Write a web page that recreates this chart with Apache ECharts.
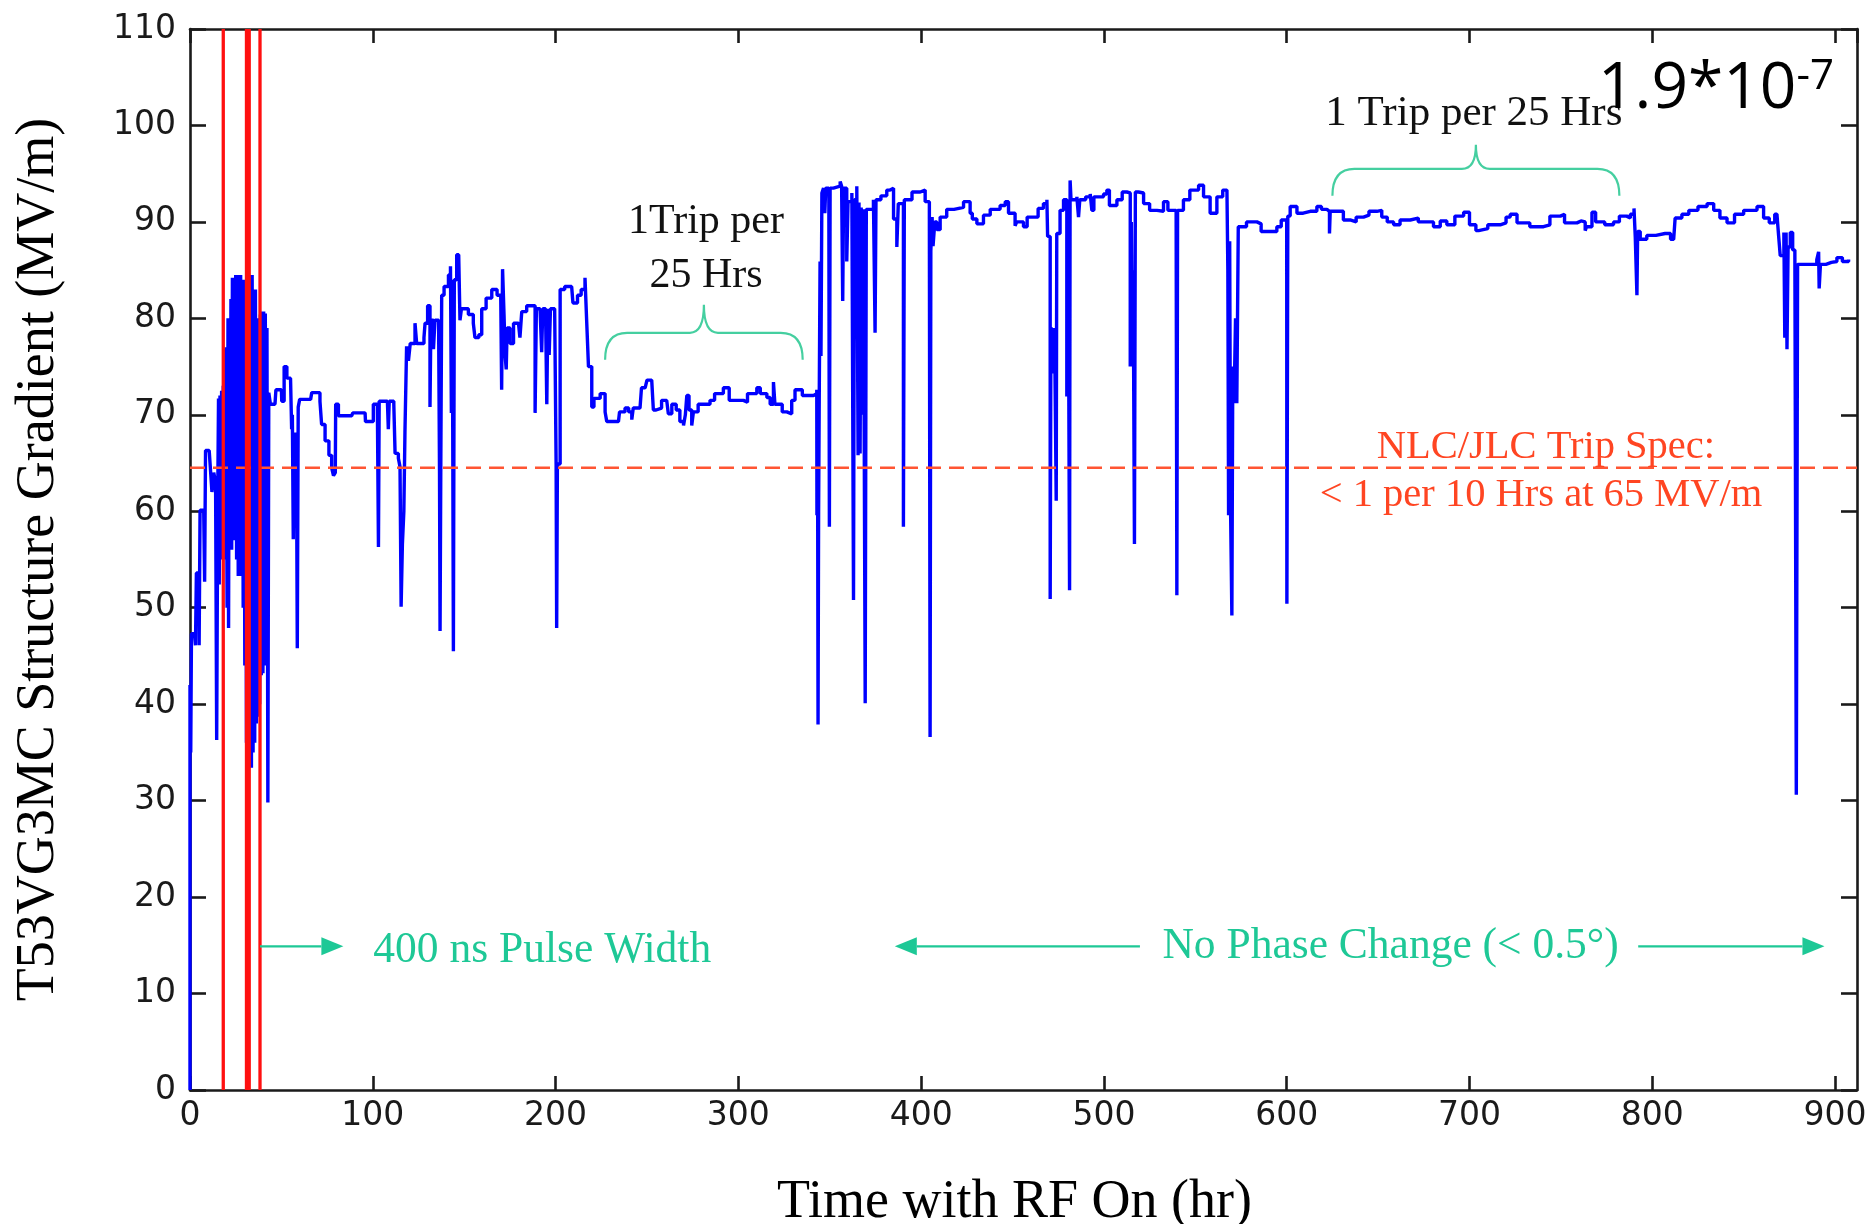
<!DOCTYPE html>
<html>
<head>
<meta charset="utf-8">
<script src="https://cdn.jsdelivr.net/npm/echarts@6/dist/echarts.min.js"></script>
<style>
html, body { margin: 0; padding: 0; background: #ffffff; }
#chart { width: 1870px; height: 1224px; }
</style>
</head>
<body>
<div id="chart"></div>
<script>
// ---------------- data (hours, gradient MV/m) ----------------
const segEarly = [
  [0,0],[0,42],[0.4,35],[0.8,47.3],[2.5,47.3],[3,46.1],[3.5,53.6],[4.5,53.6],[5,46.1],[5.5,60.1],[7.5,60.1],[8,52.7],
  [8.5,66.3],[10.5,66.3],[11,64.9],[12,62],[13,64],[14,63],[14.6,36.3],[15.2,62],[15.6,71.7],[16,52.4],[16.4,72],
  [16.8,55],[17.3,72.5],[17.7,56],[18.2,73],[18.6,55],[19,76.8],[19.4,56],[19.8,77],[20.3,50],[20.8,80],[21.1,47.9],
  [21.5,80],[22,57],[22.4,82],[22.8,56],[23.2,84.2],[23.7,58],[24.1,84.2],[24.6,57],[25,84.5],[25.5,55],[25.9,84.2],
  [26.4,53.3],[26.8,84.5],[27.3,56],[27.7,84.5],[28.2,53.3],[28.6,84],[29.1,50],[29.5,84],[30,44],[30.4,83.5],[30.9,36],
  [31.3,84.5],[31.8,33.4],[32.2,84.5],[32.7,34],[33.1,84.5],[33.6,33.4],[34,84.5],[34.5,35],[34.9,83],[35.4,36],[35.8,83],
  [36.3,38],[36.7,80],[37.2,38.7],[37.6,79.5],[38.1,40],[38.5,80.4],[39,43],[39.4,80.7],[39.9,43.2],[40.3,80.7],[40.8,44],
  [41.2,80.5],[41.7,44],[42.1,79],[42.6,29.8],[43.1,72.3]
];
const segMid = [
  [44,71.1],[46.5,71.1],[47,72.6],[50,72.6],[50.2,71.4],[51,71.4],[51.5,75],[52.5,75],[53,73.8],[55,73.8],[55.6,68.5],
  [56,70],[56.5,57.1],[57,68],[58.2,68],[58.7,45.8],[59.2,70.8],[60,71.6],[66,71.6],[66.6,72.3],[70,72.3],[71.1,71.4],
  [72,69],[73.9,67.3],[76,65.8],[77.5,64.5],[78.5,63.7],[79.5,64],[79.7,71.1],[81.2,69.9],[88.5,69.9],[89,70.2],
  [95.8,70.2],[96,69.3],[99,69.3],[100.3,71.1],[102.5,71.1],[103.1,56.3],[103.5,71.4],[108,71.4],[108.5,68.5],[109,71.4],
  [111.5,71.1],[112.2,66],[114,65.5],[114.9,64.6],[115.5,50.1],[116.2,56.6],[117,60],[117.6,68.2],[118.5,77.1],
  [119.5,75.6],[120.5,77.4],[123.1,79.5],[124,77.4],[128,78],[128.6,79.5],[130,81.3],[131.3,70.8],[131.8,79.8],
  [133.2,76.8],[134,79.8],[136,79.8],[136.5,64.3],[136.8,47.6],[137.2,64.3],[137.7,82.4],[139,83.3],[141.4,84.5],
  [142.5,85.4],[143,70.2],[143.5,84],[144.1,45.5],[144.6,84],[145.9,86.6],[147,86.6],[147.7,79.8],[148.5,81],
  [152.3,80.4],[155,79.5],[155.9,78],[158,78.3],[159.6,81],[162,82.1],[165.1,83],[168,82.4],[170,82.4],[170.5,72.6],
  [171,85.1],[171.8,80.4],[172.4,76.2],[173,74.7],[173.5,79],[175.1,77.4],[177,79.5],[179.7,79.5],[180.5,78],
  [181.5,80.7],[184.2,81.3],[187,81.3],[188.8,70.2],[189.5,81],[191.5,81],[192.4,76.5],[193,81],[194.5,81],
  [195.2,71.1],[195.8,81],[196.5,76.2],[197.2,81],[199.5,81],[200.3,64.9],[200.6,47.9],[201,64.9],[202.5,83],
  [205,83.3],[208.8,83.3],[209.5,81.6],[212,82.4],[214,83],[216.1,84.2],[217,79.8],[218,75],[219.8,70.8],[221,71.7],
  [224.4,72.2]
];
const segPlateau = [
  [226,72.2],[227.1,70.3],[228,69.3],[234.4,69.3],[235,70.3],[238,70.7],[240,70.3],[241.7,69.5],[242.5,70.7],
  [246.2,70.7],[247,72.8],[249,72.8],[250,73.6],[252.6,73.6],[253.5,70.5],[255,70.7],[258,71.5],[260.8,71.5],
  [261.7,70.1],[263.6,71.1],[266,70.5],[268,69.3],[270,68.9],[271,70],[271.8,72],[273,70.5],[274.5,68.9],[275.4,70.3],
  [278,71.1],[284.5,71.5],[287,72.2],[291.8,72.8],[293.7,72.8],[295,71.5],[302.8,71.3],[305,72.2],[310.1,72.8],
  [312,72.2],[315.6,71.8],[317.4,71.1],[319.2,73.4],[320,71.1],[324,70.3],[326.5,70.3],[327.4,70.1],[329.2,71.5],
  [331,72.6],[333.8,72.6],[335,72],[341.1,72.2],[342.9,72.6]
];
const segHigh = [
  [343,59.6],[343.3,72],[343.6,37.9],[343.9,60],[344.2,70],[344.7,85.9],[345.2,76.1],[345.7,93],[346.6,93.5],
  [347.3,90.9],[347.8,93.5],[349.5,93.5],[349.8,58.4],[350.2,93.5],[352,93.7],[355.7,94.2],[356.5,93.7],[357.1,81.8],
  [357.6,93.5],[359.3,85.9],[360,92.1],[362.1,93],[363,50.8],[363.5,92.3],[364.8,93.7],[365.5,65.8],[366,92],
  [366.6,66],[367.2,91.5],[367.8,70],[368.4,91.3],[369.4,40.1],[370,91.3],[373.9,92.3],[374.8,78.5],[375.3,92.3],
  [378,92.7],[381.2,93.3],[383,93.5],[384.9,90.3],[386.7,87.4],[387.5,91.9],[388.5,91.9],[390.3,58.4],[390.8,92.3],
  [395,93.1],[399.5,93.3],[402.2,92.1],[404.5,90.9],[404.9,36.6],[405.3,87],[406,90.5],[406.5,87.5],[407.5,90],
  [408.6,89.2],[410.4,90.5],[414,91.3],[418,91.5],[423.2,92.1],[426.8,90.9],[428,90.3],[430.5,89.8],[434.1,90.7],
  [437.8,91.3],[443.2,91.7],[446,92.1],[447.8,90.9],[451.4,89.6],[452.3,90],[456,89.5],[458,90.5],[461.5,90.5],
  [464,91.4],[466.9,91.9],[468.8,92.3],[469.2,88.5],[470,88.5],[470.6,50.9],[471,79.1],[471.5,74.3],[472,79],
  [472.5,74.5],[473,79],[473.9,61.1],[474.2,88.8],[475.1,88.8],[476,91.2],[477.9,92.3],[478.8,92.3],[479.7,71.9],
  [480.4,92],[481.2,51.8],[481.5,94.3],[482,92.3],[485.2,92.6],[486.1,90.5],[486.8,92.3],[490,92.6],[492.5,92.9],
  [493.4,91.2],[494.5,92.6],[499.8,92.9],[501.6,93.3],[503,91.7],[507.1,92.3],[510,93.1],[512.5,93.3],[513.5,93],
  [514.4,75],[515,90],[515.5,75],[516,85],[516.7,56.6],[517.2,93.1],[518.9,93],[521.7,91.9],[525,91.2],[529,91.1],
  [532.6,92.1],[535,91.2],[539.5,91.1],[539.9,51.3],[540.3,91.2],[543.5,92.3],[547,93.3],[551.8,93.8],[554.5,92.6],
  [558.1,90.9],[561.8,92.6],[565,93.3],[567.3,93.5],[567.8,85],[568.2,59.6],[568.8,88],[569.3,60],[570,49.2],
  [570.5,75],[571.2,71.2],[572,80],[572.7,71.2],[573.5,89.5],[578,90],[583.7,89.8],[586,89],[591,89],[594.6,89.5],
  [597,90.2],[600,90.2]
];
const segLate = [
  [600.1,50.4],[600.6,90.6],[601.9,91.6],[605.6,90.9],[609,91.1],[612.9,91.1],[616.5,91.6],[619,91.3],[622,91.1],
  [623.4,88.8],[623.8,91.1],[627.5,91.1],[631,90.2],[634.7,90],[638,90.5],[642,90.7],[645,91.1],[649.3,91.2],
  [652,90.5],[655,90],[658.5,89.7],[662,90.2],[667.6,90.4],[672,90],[680.3,89.5],[684,90.1],[687.6,89.7],[692,90.6],
  [696.8,91],[700,89.7],[703.5,89.1],[705,89.3],[710,89.7],[716.8,89.9],[720,90.5],[722.3,90.8],[726,89.9],[733,89.5],
  [740.5,89.7],[744,90.6],[749.7,90.8],[752,89.9],[758.8,90.1],[761,90],[763.3,89.1],[764,89.5],[767,91],[769,90],
  [774,89.7],[778.8,90],[782,90.6],[786,90.4],[788,90.8],[790,91.4],[790.7,88.4],[791.6,82.4],[792,89],[793.4,88.2],
  [797,88.6],[802,88.8],[807,88.8],[810,88.2],[811.7,88.2],[812.5,90.4],[816.2,90.8],[820,91.2],[825,91.6],[830,91.9],
  [833.6,91.2],[837,90.4],[840.9,89.9],[845,90.8],[850,91.2],[857.3,91.6],[860.9,90.4],[864,89.9],[867,90.8],
  [868.2,90.8],[869.1,88.6],[870,86.5],[871,86.5],[872,88.9],[872.5,78],[873.2,88.9],[873.7,76.8],[874.3,87.4],
  [875.5,88.9],[876.8,87.1],[878,87.1],[878.8,30.6],[879.5,85.6],[884,85.6],[888.3,85.6],[890,86.1],[891,86.9],
  [891.3,83.1],[892,85.6],[895,85.8],[898,85.9],[901,86.3],[904,85.9],[907.4,86.1]
];

// reference marks (data units)
const redLineHours = [18.2, 30.9, 32.4, 38.3];
const tripSpecLevel = 64.5;
const arrowSegments = [[38.3, 83.9, 14.9], [519.7, 385.6, 14.9], [792.3, 894.2, 14.9]]; // from, to(head), level
const braceSpans = [[227.1, 335.2, 75.7, 78.5, 81.4], [625, 782, 92.7, 95.5, 98.0]]; // x1, x2, yEnd, yMid, yTip

// annotation texts and anchors (data units)
const noteTexts = ['1Trip per', '25 Hrs', '1 Trip per 25 Hrs', 'NLC/JLC Trip Spec:', '< 1 per 10 Hrs at 65 MV/m',
                   '400 ns Pulse Width', 'No Phase Change (< 0.5°)'];
const noteAnchors = [[282.3, 90.0], [282.3, 84.35], [702.4, 101.2], [741.8, 66.6], [739.1, 61.7], [100.3, 14.45], [532, 14.85]];
const noteKinds = ['black', 'black', 'black', 'spec', 'spec', 'green', 'green'];
const rateAnchor = [770.3, 103.7];

// ---------------- chart ----------------
const X_MAX = 912, Y_MAX = 110;
const serif = '"Liberation Serif", "Times New Roman", serif';
const sans = '"DejaVu Sans", Verdana, sans-serif';
const axisColor = '#1a1a1a';
const green = '#1ec896';
const specColor = '#ff4522';

const gradientData = [].concat(segEarly, segMid, segPlateau, segHigh, segLate);

function axisBase(pos, isX, showLabel) {
  return {
    type: 'value', position: pos, min: 0, max: isX ? X_MAX : Y_MAX, interval: isX ? 100 : 10,
    axisLine: { show: true, onZero: false, lineStyle: { color: axisColor, width: 2.6 } },
    axisTick: { show: true, inside: true, length: isX ? 14 : 16, lineStyle: { color: axisColor, width: 2.6 } },
    axisLabel: {
      show: showLabel, margin: isX ? 10 : 14, showMaxLabel: !isX, fontFamily: sans, fontSize: 33, color: '#1a1a1a',
      formatter: v => (isX ? (v % 100 === 0 ? String(v) : '') : String(v))
    },
    splitLine: { show: false }
  };
}

const xBottom = Object.assign(axisBase('bottom', true, true), {
  name: 'Time with RF On (hr)', nameLocation: 'middle', nameGap: 86,
  nameTextStyle: { fontFamily: serif, fontSize: 54, color: '#000', padding: [0, 18, 0, 0] }
});
const yLeft = Object.assign(axisBase('left', false, true), {
  name: 'T53VG3MC Structure Gradient (MV/m)', nameLocation: 'middle', nameRotate: 90, nameGap: 124,
  nameTextStyle: { fontFamily: serif, fontSize: 54, color: '#000' }
});

const option = {
  animation: false,
  backgroundColor: '#ffffff',
  grid: { left: 190, right: 13, top: 29, bottom: 134, containLabel: false, outerBoundsMode: 'none' },
  xAxis: [xBottom, axisBase('top', true, false)],
  yAxis: [yLeft, axisBase('right', false, false)],
  series: [
    {
      name: 'Gradient', type: 'line', data: gradientData, step: 'end', showSymbol: false, symbol: 'none', clip: false,
      lineStyle: { color: '#0000ff', width: 3.4 }, z: 2
    },
    {
      name: 'Trip spec', type: 'line', data: [[0, tripSpecLevel], [X_MAX, tripSpecLevel]], showSymbol: false, symbol: 'none',
      lineStyle: { color: '#ff5533', width: 2.5, type: [15, 8] }, z: 3
    },
    {
      name: 'Red markers', type: 'custom', z: 4, clip: false,
      data: redLineHours.map(h => [h, 0]),
      renderItem: (params, api) => {
        const p0 = api.coord([api.value(0), 0]);
        const p1 = api.coord([api.value(0), Y_MAX]);
        return { type: 'line', shape: { x1: p0[0], y1: p0[1], x2: p1[0], y2: p1[1] },
                 style: { stroke: '#ff1010', lineWidth: 3.3 } };
      }
    },
    {
      name: 'Arrows', type: 'custom', z: 5, clip: false,
      data: arrowSegments,
      renderItem: (params, api) => {
        const a = api.coord([api.value(0), api.value(2)]);
        const b = api.coord([api.value(1), api.value(2)]);
        const dir = b[0] > a[0] ? 1 : -1;
        const headLen = 22, headHalf = 9;
        const baseX = b[0] - dir * headLen;
        return {
          type: 'group',
          children: [
            { type: 'line', shape: { x1: a[0], y1: a[1], x2: baseX, y2: b[1] }, style: { stroke: green, lineWidth: 2.2 } },
            { type: 'polygon', shape: { points: [[b[0], b[1]], [baseX, b[1] - headHalf], [baseX, b[1] + headHalf]] },
              style: { fill: green } }
          ]
        };
      }
    },
    {
      name: 'Braces', type: 'custom', z: 5, clip: false,
      data: braceSpans,
      renderItem: (params, api) => {
        const pl = api.coord([api.value(0), api.value(2)]);
        const pr = api.coord([api.value(1), api.value(2)]);
        const yM = api.coord([0, api.value(3)])[1];
        const yT = api.coord([0, api.value(4)])[1];
        const x1 = pl[0], x2 = pr[0], yE = pl[1], xm = (x1 + x2) / 2;
        const r1 = 22, r2 = 14;
        const d = `M ${x1} ${yE} Q ${x1} ${yM} ${x1 + r1} ${yM} L ${xm - r2} ${yM} Q ${xm} ${yM} ${xm} ${yT} ` +
                  `Q ${xm} ${yM} ${xm + r2} ${yM} L ${x2 - r1} ${yM} Q ${x2} ${yM} ${x2} ${yE}`;
        return { type: 'path', shape: { pathData: d }, style: { fill: 'none', stroke: '#45cfa0', lineWidth: 2.2 } };
      }
    },
    {
      name: 'Notes', type: 'custom', z: 6, clip: false,
      data: noteAnchors.map((p, i) => [p[0], p[1], i]),
      renderItem: (params, api) => {
        const i = api.value(2);
        const p = api.coord([api.value(0), api.value(1)]);
        const kind = noteKinds[i];
        const color = kind === 'spec' ? specColor : (kind === 'green' ? green : '#111');
        const size = kind === 'spec' ? 40.5 : (kind === 'green' ? 43.5 : (i === 2 ? 43 : 42));
        return {
          type: 'text', x: p[0], y: p[1],
          style: { text: noteTexts[i], fill: color, font: `${size}px ${serif}`,
                   align: kind === 'green' ? 'left' : 'center', verticalAlign: 'middle' }
        };
      }
    },
    {
      name: 'Rate', type: 'custom', z: 7, clip: false,
      data: [rateAnchor],
      renderItem: (params, api) => {
        const p = api.coord([api.value(0), api.value(1)]);
        return {
          type: 'text', x: p[0], y: p[1],
          style: {
            text: '{a|1.9*10}{b|-7}', align: 'left', verticalAlign: 'middle',
            rich: {
              a: { fontFamily: '"Open Sans", "Noto Sans", sans-serif', fontSize: 64, color: '#000', lineHeight: 68 },
              b: { fontFamily: '"Open Sans", "Noto Sans", sans-serif', fontSize: 42, color: '#000', verticalAlign: 'top', lineHeight: 42 }
            }
          }
        };
      }
    }
  ]
};

const chart = echarts.init(document.getElementById('chart'), null, { renderer: 'canvas' });
chart.setOption(option);
</script>
</body>
</html>
